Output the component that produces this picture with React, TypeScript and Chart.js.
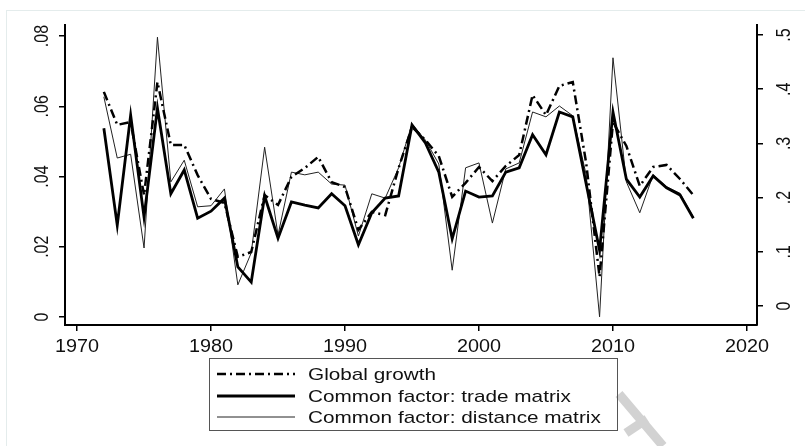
import { useEffect, useRef } from "react";
import { Chart, registerables } from "chart.js";

Chart.register(...registerables);

const years = [
  1972, 1973, 1974, 1975, 1976, 1977, 1978, 1979, 1980, 1981, 1982, 1983, 1984, 1985, 1986,
  1987, 1988, 1989, 1990, 1991, 1992, 1993, 1994, 1995, 1996, 1997, 1998, 1999, 2000, 2001,
  2002, 2003, 2004, 2005, 2006, 2007, 2008, 2009, 2010, 2011, 2012, 2013, 2014, 2015, 2016,
];

const globalGrowth = [
  0.0641, 0.0547, 0.0555, 0.0347, 0.0669, 0.049, 0.049, 0.0404, 0.0336, 0.0325, 0.0171, 0.0185,
  0.0347, 0.0319, 0.0399, 0.0424, 0.0456, 0.0384, 0.037, 0.0248, 0.0299, 0.029, 0.0424, 0.0541,
  0.0504, 0.0458, 0.0342, 0.0382, 0.0427, 0.0387, 0.043, 0.0461, 0.0632, 0.0575, 0.0658, 0.0669,
  0.0438, 0.0114, 0.0555, 0.0487, 0.0373, 0.0427, 0.0433, 0.0393, 0.0347,
];

const tradeFactor = [
  0.328, 0.149, 0.352, 0.164, 0.365, 0.207, 0.251, 0.162, 0.175, 0.199, 0.072, 0.044, 0.203,
  0.125, 0.192, 0.186, 0.181, 0.207, 0.185, 0.113, 0.172, 0.199, 0.203, 0.334, 0.301, 0.247,
  0.124, 0.212, 0.201, 0.203, 0.247, 0.255, 0.316, 0.279, 0.358, 0.349, 0.225, 0.103, 0.358,
  0.234, 0.201, 0.24, 0.218, 0.205, 0.162,
];

const distanceFactor = [
  0.386, 0.273, 0.28, 0.107, 0.496, 0.229, 0.269, 0.183, 0.185, 0.216, 0.039, 0.098, 0.293,
  0.131, 0.247, 0.242, 0.247, 0.225, 0.223, 0.129, 0.207, 0.199, 0.255, 0.336, 0.306, 0.262,
  0.066, 0.255, 0.264, 0.153, 0.253, 0.264, 0.358, 0.349, 0.369, 0.351, 0.242, -0.02, 0.458,
  0.229, 0.172, 0.242, 0.22, 0.208, 0.164,
];

const xTicks = [1970, 1980, 1990, 2000, 2010, 2020];
const xTickLabels = ["1970", "1980", "1990", "2000", "2010", "2020"];
const leftTicks = [0, 0.02, 0.04, 0.06, 0.08];
const leftTickLabels = ["0", ".02", ".04", ".06", ".08"];
const rightTicks = [0, 0.1, 0.2, 0.3, 0.4, 0.5];
const rightTickLabels = ["0", ".1", ".2", ".3", ".4", ".5"];
const legendLabels = [
  "Global growth",
  "Common factor: trade matrix",
  "Common factor: distance matrix",
];

const FONT = '"Liberation Sans", Arial, sans-serif';

function stretchText(
  ctx: CanvasRenderingContext2D,
  text: string,
  x: number,
  y: number,
  size: number,
  sx: number,
  align: CanvasTextAlign,
  rotate: boolean
) {
  ctx.save();
  ctx.translate(x, y);
  ctx.scale(sx, 1);
  if (rotate) ctx.rotate(-Math.PI / 2);
  ctx.font = `${size}px ${FONT}`;
  ctx.textAlign = align;
  ctx.textBaseline = "alphabetic";
  ctx.fillStyle = "#111";
  ctx.fillText(text, 0, 0);
  ctx.restore();
}

const decorPlugin = {
  id: "decor",
  beforeDraw(chart: any) {
    const ctx = chart.ctx as CanvasRenderingContext2D;
    ctx.save();
    ctx.fillStyle = "#fff";
    ctx.fillRect(0, 0, chart.width, chart.height);
    ctx.strokeStyle = "#e4ecec";
    ctx.lineWidth = 1;
    ctx.strokeRect(6.5, 10.5, chart.width, chart.height);
    // faint watermark
    ctx.strokeStyle = "#d2d2d2";
    ctx.lineWidth = 9;
    ctx.beginPath();
    ctx.moveTo(619, 394);
    ctx.lineTo(663, 446);
    ctx.moveTo(626, 433);
    ctx.lineTo(647, 419);
    ctx.stroke();
    ctx.restore();
  },
  afterDraw(chart: any) {
    const ctx = chart.ctx as CanvasRenderingContext2D;
    const xs = chart.scales.x;
    const yl = chart.scales.yL;
    const yr = chart.scales.yR;
    xTicks.forEach((v, i) => {
      stretchText(ctx, xTickLabels[i], xs.getPixelForValue(v), 351.5, 18, 1.1, "center", false);
    });
    leftTicks.forEach((v, i) => {
      stretchText(ctx, leftTickLabels[i], 48, yl.getPixelForValue(v), 16, 1.3, "center", true);
    });
    rightTicks.forEach((v, i) => {
      stretchText(ctx, rightTickLabels[i], 790, yr.getPixelForValue(v), 16, 1.3, "center", true);
    });

    // legend
    ctx.save();
    ctx.strokeStyle = "#555";
    ctx.lineWidth = 1;
    ctx.strokeRect(209.5, 358.5, 408, 72);
    const rows = [374, 396, 417];
    const styles = [
      { w: 2.5, dash: [9, 4, 2, 4], color: "#000" },
      { w: 3, dash: [], color: "#000" },
      { w: 1, dash: [], color: "#222" },
    ];
    rows.forEach((ry, i) => {
      ctx.beginPath();
      ctx.setLineDash(styles[i].dash);
      ctx.lineWidth = styles[i].w;
      ctx.strokeStyle = styles[i].color;
      ctx.moveTo(217, ry);
      ctx.lineTo(295, ry);
      ctx.stroke();
      ctx.setLineDash([]);
      stretchText(ctx, legendLabels[i], 308, ry + 6, 17, 1.22, "left", false);
    });
    ctx.restore();
  },
};

export default function App() {
  const canvasRef = useRef<HTMLCanvasElement | null>(null);

  useEffect(() => {
    const canvas = canvasRef.current;
    if (!canvas) return;
    const gridCommon = {
      display: true,
      drawOnChartArea: false,
      drawTicks: true,
      tickLength: 6,
      color: "#000",
      lineWidth: 1.5,
    };
    const chart = new Chart(canvas, {
      type: "line",
      data: {
        datasets: [
          {
            label: legendLabels[0],
            data: years.map((y, i) => ({ x: y, y: globalGrowth[i] })),
            yAxisID: "yL",
            borderColor: "#000",
            borderWidth: 2.5,
            borderDash: [9, 4, 2, 4],
            pointRadius: 0,
            tension: 0,
            fill: false,
          },
          {
            label: legendLabels[1],
            data: years.map((y, i) => ({ x: y, y: tradeFactor[i] })),
            yAxisID: "yR",
            borderColor: "#000",
            borderWidth: 2.8,
            pointRadius: 0,
            tension: 0,
            fill: false,
          },
          {
            label: legendLabels[2],
            data: years.map((y, i) => ({ x: y, y: distanceFactor[i] })),
            yAxisID: "yR",
            borderColor: "#222",
            borderWidth: 1,
            pointRadius: 0,
            tension: 0,
            fill: false,
          },
        ],
      },
      options: {
        animation: false,
        responsive: false,
        maintainAspectRatio: false,
        layout: { padding: { top: 25, left: 0, right: 0, bottom: 0 } },
        plugins: {
          legend: { display: false },
          tooltip: { enabled: false },
          title: { display: false },
        },
        scales: {
          x: {
            type: "linear",
            position: "bottom",
            min: 1969.1,
            max: 2020.75,
            afterBuildTicks: (a: any) => {
              a.ticks = xTicks.map((v) => ({ value: v }));
            },
            afterFit: (s: any) => {
              s.height = 121;
            },
            ticks: { display: false },
            grid: gridCommon,
            border: { display: true, color: "#000", width: 2 },
          },
          yL: {
            type: "linear",
            position: "left",
            min: -0.00228,
            max: 0.08314,
            afterBuildTicks: (a: any) => {
              a.ticks = leftTicks.map((v) => ({ value: v }));
            },
            afterFit: (s: any) => {
              s.width = 65;
            },
            ticks: { display: false },
            grid: gridCommon,
            border: { display: true, color: "#000", width: 2 },
          },
          yR: {
            type: "linear",
            position: "right",
            min: -0.0351,
            max: 0.5185,
            afterBuildTicks: (a: any) => {
              a.ticks = rightTicks.map((v) => ({ value: v }));
            },
            afterFit: (s: any) => {
              s.width = 48;
            },
            ticks: { display: false },
            grid: gridCommon,
            border: { display: true, color: "#000", width: 2 },
          },
        },
      } as any,
      plugins: [decorPlugin],
    });
    return () => chart.destroy();
  }, []);

  return (
    <div
      style={{
        position: "fixed",
        left: 0,
        top: 0,
        width: 805,
        height: 446,
        background: "#fff",
      }}
    >
      <canvas ref={canvasRef} width={805} height={446} style={{ display: "block" }} />
    </div>
  );
}
